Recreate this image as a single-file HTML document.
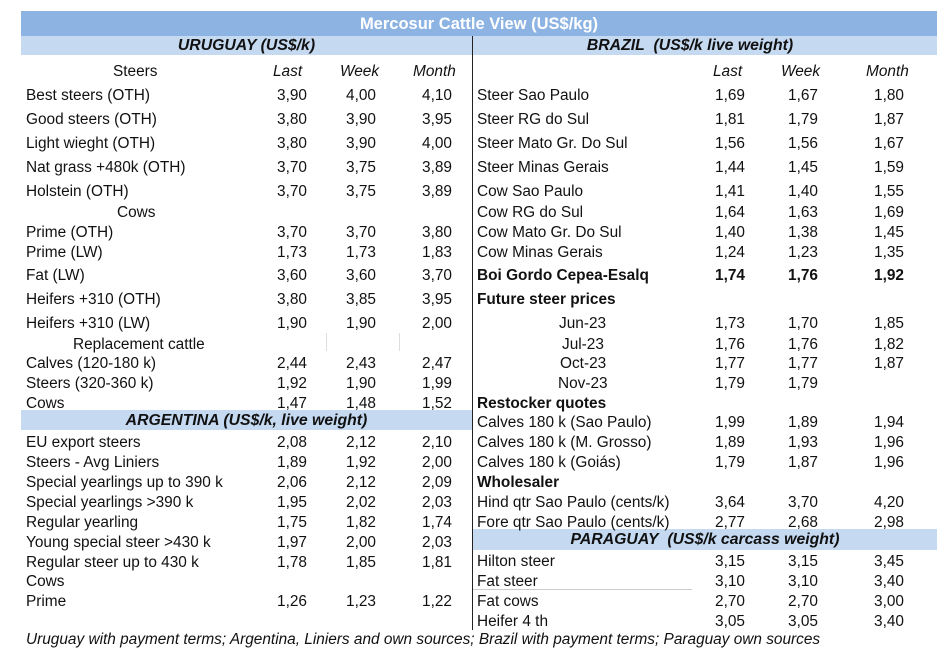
<!DOCTYPE html>
<html><head><meta charset="utf-8"><style>
body{margin:0;width:949px;height:668px;background:#fff;position:relative;overflow:hidden;font-family:"Liberation Sans",sans-serif;color:#111}
.b{position:absolute}
.t{position:absolute;font-size:15.4px;line-height:19px;white-space:nowrap}
.r{text-align:right}
.i{font-style:italic}
.bd{font-weight:bold}
.h{font-size:15.8px;line-height:16px}
</style></head><body>
<div class="b" style="left:21px;top:11px;width:916px;height:25px;background:#8db3e2"></div>
<div class="t bd" style="left:21px;width:916px;top:15px;font-size:16.5px;line-height:18px;color:#fff;text-align:center">Mercosur Cattle View (US$/kg)</div>
<div class="b" style="left:21px;top:36px;width:916px;height:19px;background:#c5d9f1"></div>
<div class="b" style="left:21px;top:410px;width:451px;height:20px;background:#c5d9f1"></div>
<div class="b" style="left:473px;top:529px;width:464px;height:21px;background:#c5d9f1"></div>
<div class="b" style="left:472px;top:36px;width:1px;height:594px;background:#222"></div>
<div class="b" style="left:326px;top:333px;width:1px;height:18px;background:#ddd"></div>
<div class="b" style="left:399px;top:333px;width:1px;height:18px;background:#ddd"></div>
<div class="b" style="left:473px;top:589px;width:219px;height:1px;background:#ccc"></div>
<div class="t bd i h" style="left:21px;width:451px;text-align:center;top:38px">URUGUAY (US$/k)</div>
<div class="t bd i h" style="left:473px;width:434px;text-align:center;top:38px">BRAZIL&nbsp; (US$/k live weight)</div>
<div class="t bd i h" style="left:21px;width:451px;text-align:center;top:413px">ARGENTINA (US$/k, live weight)</div>
<div class="t bd i h" style="left:473px;width:464px;text-align:center;top:532px">PARAGUAY&nbsp; (US$/k carcass weight)</div>
<div class="t i" style="left:26px;top:630px">Uruguay with payment terms; Argentina, Liniers and own sources; Brazil with payment terms; Paraguay own sources</div>

<div class="t" style="left:113px;top:62px">Steers</div>
<div class="t i" style="left:273px;top:62px">Last</div>
<div class="t i" style="left:340px;top:62px">Week</div>
<div class="t i" style="left:413px;top:62px">Month</div>
<div class="t i" style="left:713px;top:62px">Last</div>
<div class="t i" style="left:781px;top:62px">Week</div>
<div class="t i" style="left:866px;top:62px">Month</div>

<div class="t" style="left:117px;top:203px">Cows</div>
<div class="t" style="left:73px;top:335px">Replacement cattle</div>

<div class="t" style="left:26px;top:86px">Best steers (OTH)</div><div class="t r" style="right:642px;top:86px">3,90</div><div class="t r" style="right:573px;top:86px">4,00</div><div class="t r" style="right:497px;top:86px">4,10</div>
<div class="t" style="left:26px;top:110px">Good steers (OTH)</div><div class="t r" style="right:642px;top:110px">3,80</div><div class="t r" style="right:573px;top:110px">3,90</div><div class="t r" style="right:497px;top:110px">3,95</div>
<div class="t" style="left:26px;top:134px">Light wieght (OTH)</div><div class="t r" style="right:642px;top:134px">3,80</div><div class="t r" style="right:573px;top:134px">3,90</div><div class="t r" style="right:497px;top:134px">4,00</div>
<div class="t" style="left:26px;top:158px">Nat grass +480k (OTH)</div><div class="t r" style="right:642px;top:158px">3,70</div><div class="t r" style="right:573px;top:158px">3,75</div><div class="t r" style="right:497px;top:158px">3,89</div>
<div class="t" style="left:26px;top:182px">Holstein (OTH)</div><div class="t r" style="right:642px;top:182px">3,70</div><div class="t r" style="right:573px;top:182px">3,75</div><div class="t r" style="right:497px;top:182px">3,89</div>
<div class="t" style="left:26px;top:223px">Prime (OTH)</div><div class="t r" style="right:642px;top:223px">3,70</div><div class="t r" style="right:573px;top:223px">3,70</div><div class="t r" style="right:497px;top:223px">3,80</div>
<div class="t" style="left:26px;top:243px">Prime (LW)</div><div class="t r" style="right:642px;top:243px">1,73</div><div class="t r" style="right:573px;top:243px">1,73</div><div class="t r" style="right:497px;top:243px">1,83</div>
<div class="t" style="left:26px;top:266px">Fat (LW)</div><div class="t r" style="right:642px;top:266px">3,60</div><div class="t r" style="right:573px;top:266px">3,60</div><div class="t r" style="right:497px;top:266px">3,70</div>
<div class="t" style="left:26px;top:290px">Heifers +310 (OTH)</div><div class="t r" style="right:642px;top:290px">3,80</div><div class="t r" style="right:573px;top:290px">3,85</div><div class="t r" style="right:497px;top:290px">3,95</div>
<div class="t" style="left:26px;top:314px">Heifers +310 (LW)</div><div class="t r" style="right:642px;top:314px">1,90</div><div class="t r" style="right:573px;top:314px">1,90</div><div class="t r" style="right:497px;top:314px">2,00</div>
<div class="t" style="left:26px;top:354px">Calves (120-180 k)</div><div class="t r" style="right:642px;top:354px">2,44</div><div class="t r" style="right:573px;top:354px">2,43</div><div class="t r" style="right:497px;top:354px">2,47</div>
<div class="t" style="left:26px;top:374px">Steers (320-360 k)</div><div class="t r" style="right:642px;top:374px">1,92</div><div class="t r" style="right:573px;top:374px">1,90</div><div class="t r" style="right:497px;top:374px">1,99</div>
<div class="t" style="left:26px;top:394px">Cows</div><div class="t r" style="right:642px;top:394px">1,47</div><div class="t r" style="right:573px;top:394px">1,48</div><div class="t r" style="right:497px;top:394px">1,52</div>
<div class="t" style="left:26px;top:433px">EU export steers</div><div class="t r" style="right:642px;top:433px">2,08</div><div class="t r" style="right:573px;top:433px">2,12</div><div class="t r" style="right:497px;top:433px">2,10</div>
<div class="t" style="left:26px;top:453px">Steers - Avg Liniers</div><div class="t r" style="right:642px;top:453px">1,89</div><div class="t r" style="right:573px;top:453px">1,92</div><div class="t r" style="right:497px;top:453px">2,00</div>
<div class="t" style="left:26px;top:473px">Special yearlings up to 390 k</div><div class="t r" style="right:642px;top:473px">2,06</div><div class="t r" style="right:573px;top:473px">2,12</div><div class="t r" style="right:497px;top:473px">2,09</div>
<div class="t" style="left:26px;top:493px">Special yearlings &gt;390 k</div><div class="t r" style="right:642px;top:493px">1,95</div><div class="t r" style="right:573px;top:493px">2,02</div><div class="t r" style="right:497px;top:493px">2,03</div>
<div class="t" style="left:26px;top:513px">Regular yearling</div><div class="t r" style="right:642px;top:513px">1,75</div><div class="t r" style="right:573px;top:513px">1,82</div><div class="t r" style="right:497px;top:513px">1,74</div>
<div class="t" style="left:26px;top:533px">Young special steer &gt;430 k</div><div class="t r" style="right:642px;top:533px">1,97</div><div class="t r" style="right:573px;top:533px">2,00</div><div class="t r" style="right:497px;top:533px">2,03</div>
<div class="t" style="left:26px;top:553px">Regular steer up to 430 k</div><div class="t r" style="right:642px;top:553px">1,78</div><div class="t r" style="right:573px;top:553px">1,85</div><div class="t r" style="right:497px;top:553px">1,81</div>
<div class="t" style="left:26px;top:572px">Cows</div>
<div class="t" style="left:26px;top:592px">Prime</div><div class="t r" style="right:642px;top:592px">1,26</div><div class="t r" style="right:573px;top:592px">1,23</div><div class="t r" style="right:497px;top:592px">1,22</div>

<div class="t" style="left:477px;top:86px">Steer Sao Paulo</div><div class="t r" style="right:204px;top:86px">1,69</div><div class="t r" style="right:131px;top:86px">1,67</div><div class="t r" style="right:45px;top:86px">1,80</div>
<div class="t" style="left:477px;top:110px">Steer RG do Sul</div><div class="t r" style="right:204px;top:110px">1,81</div><div class="t r" style="right:131px;top:110px">1,79</div><div class="t r" style="right:45px;top:110px">1,87</div>
<div class="t" style="left:477px;top:134px">Steer Mato Gr. Do Sul</div><div class="t r" style="right:204px;top:134px">1,56</div><div class="t r" style="right:131px;top:134px">1,56</div><div class="t r" style="right:45px;top:134px">1,67</div>
<div class="t" style="left:477px;top:158px">Steer Minas Gerais</div><div class="t r" style="right:204px;top:158px">1,44</div><div class="t r" style="right:131px;top:158px">1,45</div><div class="t r" style="right:45px;top:158px">1,59</div>
<div class="t" style="left:477px;top:182px">Cow Sao Paulo</div><div class="t r" style="right:204px;top:182px">1,41</div><div class="t r" style="right:131px;top:182px">1,40</div><div class="t r" style="right:45px;top:182px">1,55</div>
<div class="t" style="left:477px;top:203px">Cow RG do Sul</div><div class="t r" style="right:204px;top:203px">1,64</div><div class="t r" style="right:131px;top:203px">1,63</div><div class="t r" style="right:45px;top:203px">1,69</div>
<div class="t" style="left:477px;top:223px">Cow Mato Gr. Do Sul</div><div class="t r" style="right:204px;top:223px">1,40</div><div class="t r" style="right:131px;top:223px">1,38</div><div class="t r" style="right:45px;top:223px">1,45</div>
<div class="t" style="left:477px;top:243px">Cow Minas Gerais</div><div class="t r" style="right:204px;top:243px">1,24</div><div class="t r" style="right:131px;top:243px">1,23</div><div class="t r" style="right:45px;top:243px">1,35</div>
<div class="t bd" style="left:477px;top:266px">Boi Gordo Cepea-Esalq</div><div class="t r bd" style="right:204px;top:266px">1,74</div><div class="t r bd" style="right:131px;top:266px">1,76</div><div class="t r bd" style="right:45px;top:266px">1,92</div>
<div class="t bd" style="left:477px;top:290px">Future steer prices</div>
<div class="t" style="left:559px;top:314px">Jun-23</div><div class="t r" style="right:204px;top:314px">1,73</div><div class="t r" style="right:131px;top:314px">1,70</div><div class="t r" style="right:45px;top:314px">1,85</div>
<div class="t" style="left:562px;top:335px">Jul-23</div><div class="t r" style="right:204px;top:335px">1,76</div><div class="t r" style="right:131px;top:335px">1,76</div><div class="t r" style="right:45px;top:335px">1,82</div>
<div class="t" style="left:560px;top:354px">Oct-23</div><div class="t r" style="right:204px;top:354px">1,77</div><div class="t r" style="right:131px;top:354px">1,77</div><div class="t r" style="right:45px;top:354px">1,87</div>
<div class="t" style="left:558px;top:374px">Nov-23</div><div class="t r" style="right:204px;top:374px">1,79</div><div class="t r" style="right:131px;top:374px">1,79</div>
<div class="t bd" style="left:477px;top:394px">Restocker quotes</div>
<div class="t" style="left:477px;top:413px">Calves 180 k (Sao Paulo)</div><div class="t r" style="right:204px;top:413px">1,99</div><div class="t r" style="right:131px;top:413px">1,89</div><div class="t r" style="right:45px;top:413px">1,94</div>
<div class="t" style="left:477px;top:433px">Calves 180 k (M. Grosso)</div><div class="t r" style="right:204px;top:433px">1,89</div><div class="t r" style="right:131px;top:433px">1,93</div><div class="t r" style="right:45px;top:433px">1,96</div>
<div class="t" style="left:477px;top:453px">Calves 180 k (Goiás)</div><div class="t r" style="right:204px;top:453px">1,79</div><div class="t r" style="right:131px;top:453px">1,87</div><div class="t r" style="right:45px;top:453px">1,96</div>
<div class="t bd" style="left:477px;top:473px">Wholesaler</div>
<div class="t" style="left:477px;top:493px">Hind qtr Sao Paulo (cents/k)</div><div class="t r" style="right:204px;top:493px">3,64</div><div class="t r" style="right:131px;top:493px">3,70</div><div class="t r" style="right:45px;top:493px">4,20</div>
<div class="t" style="left:477px;top:513px">Fore qtr Sao Paulo (cents/k)</div><div class="t r" style="right:204px;top:513px">2,77</div><div class="t r" style="right:131px;top:513px">2,68</div><div class="t r" style="right:45px;top:513px">2,98</div>
<div class="t" style="left:477px;top:552px">Hilton steer</div><div class="t r" style="right:204px;top:552px">3,15</div><div class="t r" style="right:131px;top:552px">3,15</div><div class="t r" style="right:45px;top:552px">3,45</div>
<div class="t" style="left:477px;top:572px">Fat steer</div><div class="t r" style="right:204px;top:572px">3,10</div><div class="t r" style="right:131px;top:572px">3,10</div><div class="t r" style="right:45px;top:572px">3,40</div>
<div class="t" style="left:477px;top:592px">Fat cows</div><div class="t r" style="right:204px;top:592px">2,70</div><div class="t r" style="right:131px;top:592px">2,70</div><div class="t r" style="right:45px;top:592px">3,00</div>
<div class="t" style="left:477px;top:612px">Heifer 4 th</div><div class="t r" style="right:204px;top:612px">3,05</div><div class="t r" style="right:131px;top:612px">3,05</div><div class="t r" style="right:45px;top:612px">3,40</div>
</body></html>
